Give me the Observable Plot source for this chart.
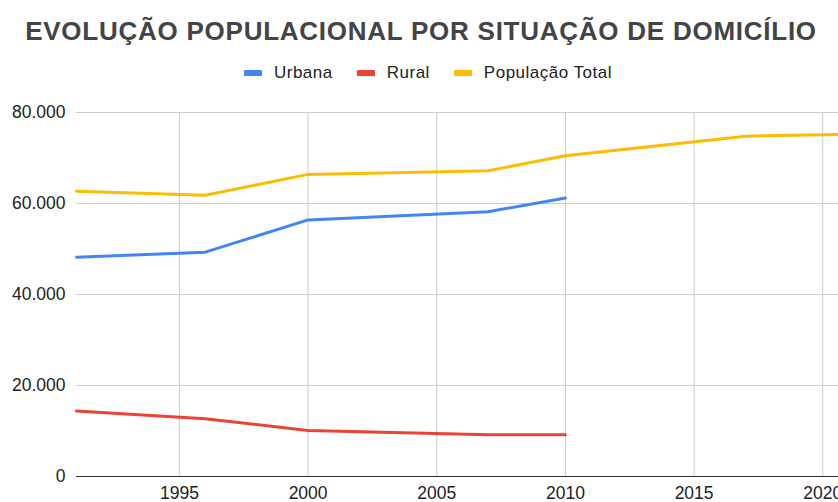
<!DOCTYPE html>
<html><head><meta charset="utf-8">
<script src="https://cdn.jsdelivr.net/npm/d3@7"></script>
<script src="https://cdn.jsdelivr.net/npm/@observablehq/plot@0.6"></script>
<style>
body{margin:0;background:#fff;overflow:hidden;width:838px;height:502px;font-family:"Liberation Sans",Arial,sans-serif}
#wrap{width:838px;height:502px;overflow:hidden;position:relative}
#title{position:absolute;left:0;top:12px;width:842px;height:38px;line-height:38px;text-align:center;font-weight:bold;font-size:26px;letter-spacing:0.75px;color:#444;white-space:nowrap}
#legend{position:absolute;left:0;top:58px;width:856px;height:30px;display:flex;justify-content:center;align-items:center;font-size:17px;letter-spacing:0.5px;color:#222}
.item{display:flex;align-items:center;margin:0 12px}
.sw{width:18px;height:6px;border-radius:1px;margin-right:12px}
#chart{position:absolute;left:0;top:88px}
#chart svg{max-width:none !important}
</style></head>
<body><div id="wrap">
<div id="title">EVOLUÇÃO POPULACIONAL POR SITUAÇÃO DE DOMICÍLIO</div>
<div id="legend"></div>
<div id="chart"></div>
</div>
<script>
const years = [1991, 1996, 2000, 2007, 2010, 2017, 2021];
const urbana = [48200, 49300, 56400, 58200, 61200, null, null];
const rural = [14400, 12700, 10100, 9200, 9200, null, null];
const total = [62700, 61800, 66400, 67200, 70500, 74800, 75200];
const seriesNames = ["Urbana", "Rural", "População Total"];
const seriesColors = ["#4285F4", "#EA4335", "#FBBC04"];
const xTicks = [1995, 2000, 2005, 2010, 2015, 2020];
const yTicks = [0, 20000, 40000, 60000, 80000];

const seriesValues = [urbana, rural, total];
const rows = [];
seriesNames.forEach((s, i) => years.forEach((y, j) => {
  if (seriesValues[i][j] != null) rows.push({year: y, value: seriesValues[i][j], series: s});
}));

const fmt = d3.formatLocale({decimal: ",", thousands: ".", grouping: [3], currency: ["", ""]}).format(",");

const leg = document.getElementById("legend");
seriesNames.forEach((s, i) => {
  const it = document.createElement("div"); it.className = "item";
  const sw = document.createElement("div"); sw.className = "sw"; sw.style.background = seriesColors[i];
  const tx = document.createElement("span"); tx.textContent = s;
  it.appendChild(sw); it.appendChild(tx); leg.appendChild(it);
});

const plot = Plot.plot({
  width: 860, height: 414,
  marginLeft: 76, marginRight: 12, marginTop: 24, marginBottom: 26,
  style: {fontFamily: "'Liberation Sans', Arial, sans-serif", fontSize: "17.5px", color: "#222", background: "#fff", maxWidth: "none"},
  x: {domain: [1991, 2021], label: null},
  y: {domain: [0, 80000], label: null},
  color: {domain: seriesNames, range: seriesColors},
  marks: [
    Plot.ruleX(xTicks, {stroke: "#ccc", strokeWidth: 1}),
    Plot.ruleY(yTicks.filter(d => d > 0), {stroke: "#ccc", strokeWidth: 1}),
    Plot.ruleY([0], {stroke: "#333", strokeWidth: 1}),
    Plot.axisX({ticks: xTicks, tickFormat: d => String(d), tickSize: 0, tickPadding: 10, fill: "#222", label: null}),
    Plot.axisY({ticks: yTicks, tickFormat: fmt, tickSize: 0, tickPadding: 11, fill: "#222", label: null}),
    Plot.line(rows, {x: "year", y: "value", stroke: "series", z: "series", strokeWidth: 3})
  ]
});
document.getElementById("chart").appendChild(plot);
</script>
</body></html>
